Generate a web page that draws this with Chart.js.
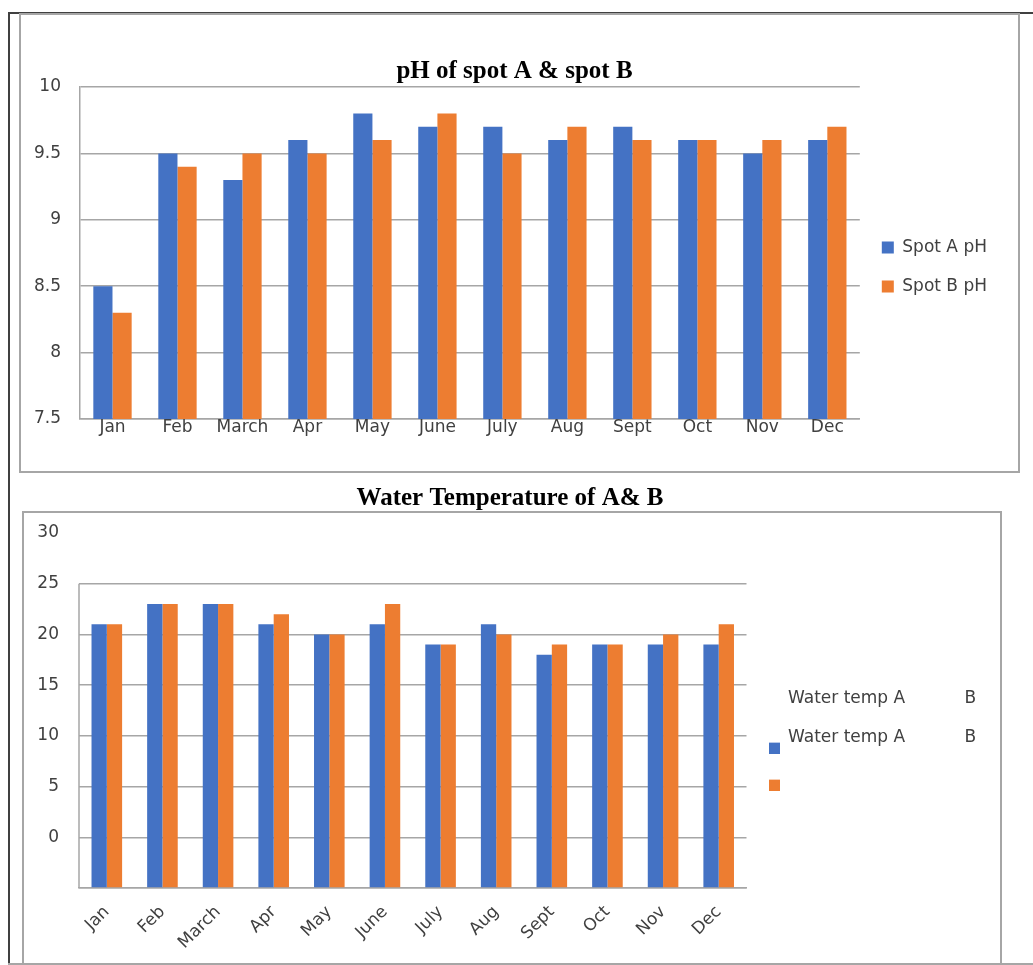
<!DOCTYPE html>
<html>
<head>
<meta charset="utf-8">
<script src="https://cdn.jsdelivr.net/npm/chart.js@4.4.1/dist/chart.umd.min.js"></script>
<style>
  body { margin: 0; background: #fff; width: 1033px; height: 965px; position: relative; overflow: hidden; }
  .dark { position: absolute; background: #404040; }
  .frame { position: absolute; border: 2px solid #a6a6a6; box-sizing: border-box; }
  .wrap { position: absolute; }
</style>
</head>
<body>
<div class="dark" style="left:8px;top:12px;width:1025px;height:2px"></div>
<div class="dark" style="left:8px;top:12px;width:2px;height:953px"></div>
<div class="frame" style="left:19px;top:13px;width:1001px;height:460px"></div>
<div class="frame" style="left:22px;top:511px;width:980px;height:454px"></div>
<div style="position:absolute;left:8px;top:963px;width:1025px;height:2px;background:#a6a6a6"></div>

<div class="wrap" style="left:20px;top:13px;width:999px;height:459px"><canvas id="phChart"></canvas></div>
<div class="wrap" style="left:23px;top:478px;width:978px;height:487px"><canvas id="tempChart"></canvas></div>

<script>
const months = ['Jan', 'Feb', 'March', 'Apr', 'May', 'June', 'July', 'Aug', 'Sept', 'Oct', 'Nov', 'Dec'];

// pH readings
const spotAPh = [8.5, 9.5, 9.3, 9.6, 9.8, 9.7, 9.7, 9.6, 9.7, 9.6, 9.5, 9.6];
const spotBPh = [8.3, 9.4, 9.5, 9.5, 9.6, 9.8, 9.5, 9.7, 9.6, 9.6, 9.6, 9.7];
const phMin = 7.5, phMax = 10, phStep = 0.5;

// water temperature
const waterTempA = [21, 23, 23, 21, 20, 21, 19, 21, 18, 19, 19, 19];
const waterTempB = [21, 23, 23, 22, 20, 23, 19, 20, 19, 19, 20, 21];
const tempMin = -5, tempMax = 30, tempStep = 5, tempPlotTop = 25;
const tempLegendRows = ['Water temp A           B', 'Water temp A           B', ''];

const BLUE = '#4472C4';
const ORANGE = '#ED7D31';
const GRID = '#a6a6a6';
const TEXT = '#404040';
const tickFont = { family: 'DejaVu Sans', size: 17 };
const titleFont = { family: 'Liberation Serif', size: 25, weight: 'bold' };

// left edge of the plot, only from the top gridline down
const plotEdge = {
    id: 'plotEdge',
    afterDatasetsDraw(chart, args, opts) {
        if (!opts.top) return;
        const { ctx, chartArea, scales } = chart;
        ctx.save();
        ctx.strokeStyle = GRID;
        ctx.lineWidth = 1.5;
        ctx.beginPath();
        ctx.moveTo(chartArea.left, scales.y.getPixelForValue(opts.top));
        ctx.lineTo(chartArea.left, chartArea.bottom);
        ctx.stroke();
        ctx.restore();
    }
};

// legend swatch drawn lower than its text line
function swatch(color, shift) {
    const c = document.createElement('canvas');
    c.width = 11;
    c.height = 11 + shift * 2;
    const g = c.getContext('2d');
    if (color) {
        g.fillStyle = color;
        g.fillRect(0, shift * 2, 11, 11);
    }
    return c;
}

new Chart(document.getElementById('phChart'), {
    type: 'bar',
    data: {
        labels: months,
        datasets: [
            { label: 'Spot A pH', data: spotAPh, backgroundColor: BLUE },
            { label: 'Spot B pH', data: spotBPh, backgroundColor: ORANGE }
        ]
    },
    options: {
        responsive: true,
        maintainAspectRatio: false,
        animation: false,
        categoryPercentage: 0.59,
        barPercentage: 1,
        layout: { padding: { left: 12, right: 22 } },
        plugins: {
            title: {
                display: true,
                text: 'pH of spot A & spot B',
                color: '#000',
                font: titleFont,
                padding: { top: 44, bottom: 0 }
            },
            legend: {
                position: 'right',
                fullSize: false,
                title: { display: true, text: '', font: { size: 16 }, padding: { top: 0, bottom: 9 } },
                labels: {
                    boxWidth: 12,
                    boxHeight: 12,
                    padding: 22,
                    color: TEXT,
                    font: tickFont
                }
            },
            tooltip: { enabled: false }
        },
        scales: {
            x: {
                grid: { display: false, drawTicks: false },
                border: { display: true, color: GRID, width: 1.5 },
                ticks: { color: TEXT, font: tickFont, padding: -2, maxRotation: 0 },
                afterFit: s => { s.height = 53; }
            },
            y: {
                min: phMin,
                max: phMax,
                ticks: { stepSize: phStep, color: TEXT, font: tickFont, padding: 19, callback: v => String(v) },
                grid: { color: GRID, lineWidth: 1.5, drawTicks: false },
                border: { display: true, color: GRID, width: 1.5 },
                afterFit: s => { s.width = 48; }
            }
        }
    }
});

new Chart(document.getElementById('tempChart'), {
    type: 'bar',
    data: {
        labels: months,
        datasets: [
            { label: 'Water temp A', data: waterTempA, backgroundColor: BLUE, base: tempMin },
            { label: 'Water temp B', data: waterTempB, backgroundColor: ORANGE, base: tempMin }
        ]
    },
    plugins: [plotEdge],
    options: {
        responsive: true,
        maintainAspectRatio: false,
        animation: false,
        categoryPercentage: 0.55,
        barPercentage: 1,
        layout: { padding: { left: 14, right: 18 } },
        plugins: {
            plotEdge: { top: tempPlotTop },
            title: {
                display: true,
                text: 'Water Temperature of A& B',
                color: '#000',
                font: titleFont,
                padding: { top: 6, bottom: 19 }
            },
            legend: {
                position: 'right',
                fullSize: false,
                title: { display: true, text: '', font: { size: 16 }, padding: { top: 0, bottom: 34 } },
                labels: {
                    usePointStyle: true,
                    boxWidth: 11,
                    boxHeight: 11,
                    padding: 22,
                    color: TEXT,
                    font: tickFont,
                    generateLabels: () => [
                        { text: tempLegendRows[0], pointStyle: swatch(null, 0), fillStyle: 'transparent', fontColor: TEXT, lineWidth: 0, hidden: false },
                        { text: tempLegendRows[1], pointStyle: swatch(BLUE, 11), fillStyle: BLUE, fontColor: TEXT, lineWidth: 0, hidden: false, datasetIndex: 0 },
                        { text: tempLegendRows[2], pointStyle: swatch(ORANGE, 9), fillStyle: ORANGE, fontColor: TEXT, lineWidth: 0, hidden: false, datasetIndex: 1 }
                    ]
                }
            },
            tooltip: { enabled: false }
        },
        scales: {
            x: {
                grid: { display: false, drawTicks: false },
                border: { display: true, color: GRID, width: 1.5 },
                ticks: { color: TEXT, font: tickFont, padding: 14, minRotation: 45, maxRotation: 45 },
                afterFit: s => { s.height = 77; }
            },
            y: {
                min: tempMin,
                max: tempMax,
                ticks: {
                    stepSize: tempStep,
                    color: TEXT,
                    font: tickFont,
                    padding: 20,
                    callback: v => (v < 0 ? '' : v)
                },
                grid: {
                    drawTicks: false,
                    lineWidth: 1.5,
                    color: ctx => (ctx.tick && ctx.tick.value > tempPlotTop ? 'transparent' : GRID)
                },
                border: { display: false },
                afterFit: s => { s.width = 42; }
            }
        }
    }
});
</script>
</body>
</html>
